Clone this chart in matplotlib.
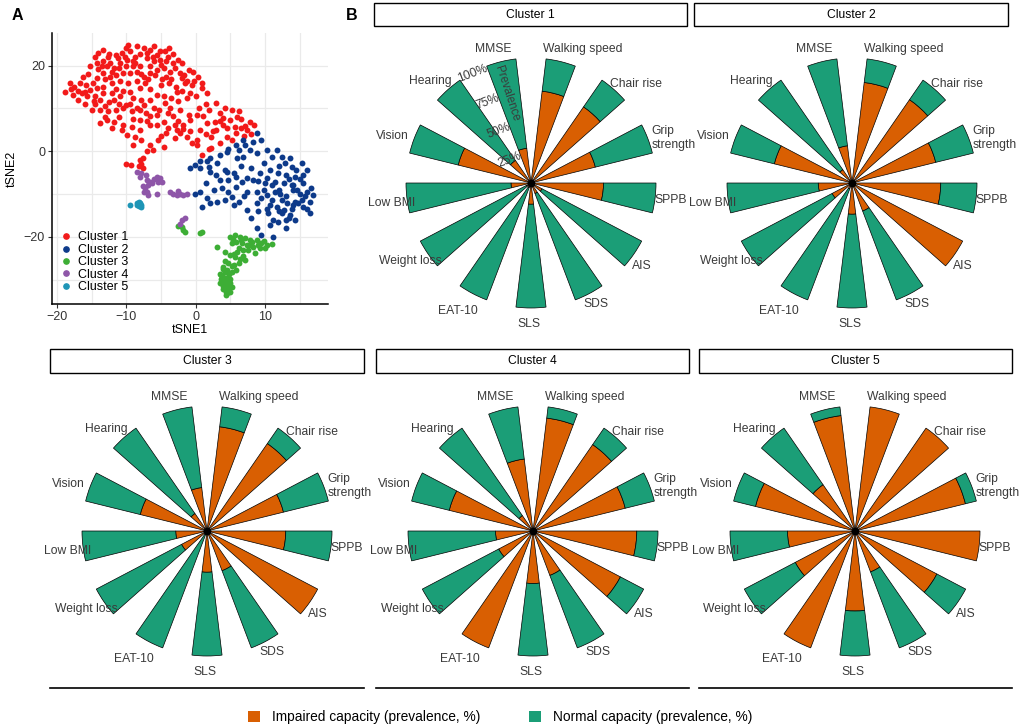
import matplotlib
matplotlib.use("Agg")
import matplotlib.pyplot as plt
import numpy as np
from matplotlib.patches import Rectangle, Patch
from matplotlib.lines import Line2D

plt.rcParams['font.family'] = ['Liberation Sans', 'DejaVu Sans']

# ---------------- data: panel A (tSNE embedding) ----------------
c1_x = [-9.7, -8.4, -7.5, -6.6, -5.1, -4.4, -3.2, -2.5, -13.3, -14.0, -14.5, -12.6, -11.4, -10.6, -9.4,
        -8.7, -7.0, -6.1, -5.1, -4.2, -3.2, -2.0, -9.9, -10.9, -12.3, -13.3, -14.2, -15.2, -11.8, -9.0,
        -8.0, -6.6, -5.6, -4.6, -3.7, -2.2, -0.3, 0.4, -1.3, -2.7, -1.5, 0.9, 1.6, -0.8, -4.2,
        -3.9, -6.6, -7.5, -8.5, -9.4, -10.4, -11.4, -12.3, -13.3, -14.2, -16.2, -16.6, -18.1, -18.8, -17.6,
        -16.4, -16.9, -15.7, -15.2, -14.2, -13.3, -12.1, -10.9, -9.7, -8.5, -7.3, -13.3, -12.1, -10.9, -9.4,
        -9.0, -7.8, -6.6, -5.6, -14.7, -13.8, -15.0, -13.8, -12.6, -11.4, -10.4, -9.2, -8.0, -6.6, -5.6,
        -4.4, -3.7, -2.5, -1.3, -2.2, -3.2, -4.6, -6.6, -8.0, -9.2, -10.4, -11.8, -12.8, -13.8, -12.1,
        -10.6, -9.9, -8.7, -7.8, -6.6, -6.1, -5.4, -4.2, -2.7, -1.8, -0.8, 0.2, 1.1, 1.6, 0.6,
        -0.8, -2.2, 0.2, 0.2, 2.3, 3.0, 2.8, 3.5, 3.0, 4.2, 5.2, 6.2, 4.0, 5.0, 5.7,
        6.6, 7.8, 7.4, 5.9, 4.5, 5.2, 2.3, 0.9, -1.3,
        -17.5, -17.0, -15.8, -14.8, -13.0, -12.0, -11.0, -10.0, -9.0, -8.0, -7.0, -6.0, -5.0, -4.0, -3.0,
        -2.0, -1.0, -11.5, -10.5, -8.0, -6.5, -5.0, -4.5, -3.5, -2.0, -6.0, -7.5, -9.5, -11.0, -12.5,
        -13.0, -11.0, -9.0, -7.0, -5.5, -4.0, -2.5, -1.0, 0.5, 1.5, 2.0, 3.5, 4.5, 6.5, 7.0,
        8.5, 8.0, 3.5, 1.5, -0.5, -3.0, -5.0, -8.0, -9.0, -7.0, -4.5, -16.0, -18.0, -14.5, -13.5,
        -12.5, -10.0, -6.0, -5.5, -3.8, 0.0, -0.5,
        -15.5, -14.0, -12.8, -11.2, -10.2, -8.8, -7.8, -6.8, -5.8, -4.8, -3.5, -2.8, -1.6, -0.2, 1.0,
        -16.0, -14.5, -13.0, -11.7, -10.0, -8.5, -7.2, -5.3, -4.0, -3.0, -1.8, 2.5, 4.0, 6.0, 7.2,
        -10.0, -9.3, -8.0, -7.6, -7.8, -7.6, -8.1, 2.0]
c1_y = [24.8, 24.5, 24.1, 23.7, 23.5, 23.3, 22.7, 21.3, 23.7, 22.9, 22.1, 22.1, 22.5, 22.9, 23.3,
        22.1, 21.7, 22.1, 21.3, 21.0, 20.6, 20.6, 21.3, 20.6, 20.6, 21.0, 20.6, 19.8, 19.4, 19.8,
        19.8, 19.8, 19.0, 19.4, 18.6, 18.2, 18.6, 17.4, 16.3, 13.9, 15.9, 14.7, 13.5, 13.5, 17.4,
        15.9, 18.2, 17.4, 18.6, 18.2, 18.2, 17.8, 17.4, 18.2, 17.0, 17.4, 15.9, 15.9, 13.9, 13.2,
        13.5, 12.0, 12.8, 14.3, 14.7, 15.1, 15.9, 16.3, 15.9, 16.3, 15.9, 13.5, 13.5, 12.8, 13.9,
        12.4, 12.0, 12.0, 13.2, 11.6, 12.0, 9.6, 9.6, 9.3, 9.6, 10.0, 9.3, 9.6, 8.1, 8.5,
        11.2, 10.0, 11.6, 12.4, 9.6, 8.1, 6.9, 6.1, 7.3, 5.7, 6.1, 6.9, 7.3, 6.5, 5.4,
        5.0, 3.8, 3.4, 2.6, 1.5, 0.3, 2.6, 4.2, 5.0, 6.1, 7.3, 8.5, 8.1, 6.5, 5.0,
        4.6, 4.2, 2.6, 1.5, 3.4, 5.0, 6.9, 8.9, 11.2, 10.0, 9.6, 9.3, 7.7, 7.3, 5.7,
        5.4, 6.9, 5.0, 4.2, 3.4, 2.6, 0.7, -0.9, 3.4,
        15.0, 14.0, 15.5, 16.0, 16.8, 18.5, 19.5, 20.0, 21.0, 22.8, 23.0, 21.0, 20.2, 22.0, 19.5,
        17.0, 19.0, 14.5, 14.0, 14.8, 14.5, 15.5, 13.0, 12.5, 14.0, 10.0, 10.8, 11.0, 11.0, 11.5,
        8.0, 8.0, 7.5, 7.0, 6.0, 5.5, 7.0, 8.5, 10.0, 11.0, 9.5, 7.0, 5.5, 7.5, 3.5,
        6.0, 4.0, 2.0, 4.0, 2.0, 3.0, 3.5, 5.0, 1.5, 0.0, 1.0, 11.0, 14.5, 13.0, 20.0,
        22.8, 24.0, 24.5, 22.5, 24.0, 13.0, 15.5,
        18.0, 19.2, 19.8, 21.8, 22.0, 20.5, 18.0, 16.8, 17.8, 16.8, 16.8, 15.0, 17.8, 16.5, 16.0,
        13.8, 11.0, 10.5, 12.0, 10.8, 10.0, 8.8, 9.5, 8.8, 6.0, 5.2, 4.8, 6.0, 8.0, 5.8,
        -3.0, -3.2, -2.0, -1.6, -3.0, -4.0, -3.5, 0.5]

c2_x = [8.8, 9.5, 8.3, 6.9, 7.1, 5.9, 6.2, 4.7, 4.5, 3.5, 2.1, 1.6, 0.7, -0.1, -0.8,
        0.7, 1.9, 3.1, 4.3, 4.5, 2.1, 6.9, 7.9, 8.8, 10.3, 11.0, 11.7, 12.4, 12.9, 13.6,
        13.9, 15.3, 16.0, 15.5, 14.3, 13.1, 11.9, 10.7, 9.8, 9.3, 10.3, 11.5, 12.7, 13.9, 14.6,
        15.5, 16.7, 17.0, 16.5, 16.0, 15.3, 14.3, 13.9, 13.6, 13.1, 12.4, 11.7, 11.0, 10.3, 9.8,
        9.5, 8.8, 10.3, 11.2, 10.7, 11.9, 14.3, 16.5, 5.9, 6.7, 7.4, 8.3, 5.9, 4.7, 3.5,
        2.6, 3.8, 0.7, -0.1, 1.6, 2.1, 0.9, 3.1, 4.3, 5.2, 6.2, 7.4, 8.8, 7.4, 8.8,
        9.5, 11.2, 4.7,
        12.0, 13.0, 14.0, 15.0, 12.5, 11.5, 10.0, 9.0, 8.0, 6.5, 5.5, 12.0, 14.5, 15.5, 13.5,
        12.0, 7.0, 5.5, 1.5, 3.0, 16.0, 14.0, 10.5, 13.0, 8.0,
        13.2, 14.8, 12.2, 15.8, 13.5, 11.0, 14.0, 15.0, 12.8, 10.8, 9.0, 6.0]
c2_y = [4.2, 2.6, 2.2, 2.6, 1.5, 1.5, 0.3, 0.6, -0.1, -0.9, -1.7, -2.4, -2.4, -3.2, -4.0,
        -4.0, -3.6, -2.8, -4.4, -4.8, -4.8, -1.3, 0.3, -0.5, 0.3, -1.3, 0.3, -1.3, -2.8, -1.7,
        -3.6, -2.8, -4.4, -5.6, -6.0, -5.6, -5.2, -4.4, -2.8, -5.2, -6.3, -7.1, -7.5, -7.9, -9.1,
        -7.5, -8.7, -10.2, -11.8, -13.4, -11.4, -11.8, -13.4, -14.9, -16.1, -14.5, -13.0, -11.4, -10.2, -9.1,
        -11.0, -12.2, -13.4, -16.1, -17.3, -16.5, -16.1, -14.5, -6.0, -7.1, -6.3, -6.7, -8.3, -6.7, -6.7,
        -9.1, -8.7, -9.5, -9.9, -11.0, -12.2, -13.0, -11.8, -11.4, -10.6, -11.8, -13.7, -9.5, -9.5, -18.0,
        -19.6, -20.0, -9.5,
        -9.0, -10.5, -12.5, -10.0, -11.5, -9.5, -7.5, -7.0, -4.0, -3.5, -5.0, -3.5, -4.5, -13.0, -15.5,
        -14.0, -10.5, -12.5, -7.5, -5.5, -9.5, -9.0, -14.5, -18.0, -15.5,
        -12.0, -12.0, -10.0, -10.5, -6.5, -8.0, -8.0, -6.5, -13.8, -12.5, -14.0, -1.5]

c3_x = [5.0, 5.7, 6.4, 7.1, 7.9, 8.8, 9.5, 10.3, 11.0, 10.0, 9.3, 8.3, 7.4, 6.7, 5.9,
        5.2, 6.2, 6.9, 8.6, 3.1, 4.3, 5.0, 5.7, 6.4, 7.1, 6.2, 5.5, 4.7, 4.0, 4.5,
        5.2, 5.9, 3.5, 4.0, 4.7, 3.8, 4.5, 4.3, 5.0, 4.0, 4.7, 4.5, 3.5, 5.2,
        -2.5, -2.0, -1.8, -1.5, 0.7, 0.9,
        4.2, 4.8, 4.0, 4.6, 5.0, 3.7, 5.3, 6.0, 7.8, 9.0, 6.5, 4.4, 3.9,
        4.1, 4.4, 4.9, 3.6, 4.3, 4.8, 5.5, 6.8, 7.6, 8.1, 9.8, 5.4, 4.2, 3.9]
c3_y = [-20.0, -19.6, -20.0, -20.4, -20.8, -20.8, -21.5, -21.9, -21.7, -22.7, -22.7, -22.3, -21.9, -21.5, -21.2,
        -21.5, -22.7, -23.1, -23.9, -22.5, -23.5, -24.3, -24.7, -25.1, -25.4, -26.2, -26.6, -26.2, -27.0, -27.8,
        -28.2, -27.8, -28.6, -29.3, -29.3, -30.1, -30.5, -31.3, -30.9, -32.1, -32.5, -33.2, -30.9, -31.7,
        -17.5, -17.8, -18.4, -18.8, -19.2, -18.8,
        -29.8, -28.8, -31.6, -31.8, -29.8, -29.0, -26.8, -23.5, -22.0, -22.0, -20.8, -33.6, -27.5,
        -30.6, -32.8, -32.9, -29.9, -28.2, -30.0, -24.0, -24.4, -23.0, -21.2, -20.9, -20.6, -25.6, -31.0]

c4_x = [-8.5, -7.8, -8.0, -7.0, -6.6, -6.8, -7.3, -7.5, -7.0, -6.3, -5.6, -5.1, -5.4, -4.9, -5.6,
        -3.7, -3.2, -2.7, -2.2, -1.8, -1.3, -2.0, -1.5, -2.2, -7.2, -6.0, -7.6, -2.5, -6.8]
c4_y = [-4.8, -5.2, -6.0, -6.7, -7.1, -7.9, -8.7, -9.5, -9.5, -7.5, -6.0, -6.3, -7.1, -7.1, -9.9,
        -9.5, -9.9, -10.2, -9.9, -10.2, -10.0, -16.1, -15.7, -16.9, -5.5, -6.5, -8.2, -9.2, -10.3]

c5_x = [-9.4, -8.5, -8.2, -8.0, -7.8, -8.2, -7.9, -8.4]
c5_y = [-12.6, -12.2, -11.8, -12.2, -12.6, -12.8, -13.1, -12.6]

# ---------------- data: panel B (impaired prevalence, %) ----------------
capacities = ["MMSE", "Walking speed", "Chair rise", "Grip\nstrength", "SPPB", "AIS", "SDS",
              "SLS", "EAT-10", "Weight loss", "Low BMI", "Vision", "Hearing"]
impaired_c1 = [28, 74, 74, 53, 58, 10, 9, 17, 4, 4, 16, 60, 22]
impaired_c2 = [30, 81, 81, 69, 71, 100, 24, 25, 5, 18, 27, 64, 13]
impaired_c3 = [35, 84, 85, 63, 63, 100, 34, 33, 3, 23, 25, 55, 17]
impaired_c4 = [58, 91, 84, 76, 83, 79, 38, 42, 100, 31, 30, 69, 15]
impaired_c5 = [93, 100, 100, 91, 100, 74, 35, 64, 100, 54, 54, 82, 45]
cluster_names = ["Cluster 1", "Cluster 2", "Cluster 3", "Cluster 4", "Cluster 5"]
prevalence_ticks = [25, 50, 75, 100]

# ---------------- layout helpers (pixel -> figure fraction) ----------------
W, H = 1021, 727
def fx(px):
    return px / W
def fy(py):
    return 1 - py / H

ORANGE = "#D95F02"
GREEN = "#1B9E77"
TXT = "#3a3a3a"

fig = plt.figure(figsize=(W / 100, H / 100), dpi=100)

# ---------------- panel A ----------------
axA = fig.add_axes([fx(52), fy(304), fx(328) - fx(52), fy(33) - fy(304)])
pt_colors = ["#F21A1A", "#0D3A8A", "#3DAE35", "#8E56A8", "#1E95B6"]
for (xs, ys), col, name in zip([(c1_x, c1_y), (c2_x, c2_y), (c3_x, c3_y), (c4_x, c4_y), (c5_x, c5_y)],
                               pt_colors, cluster_names):
    axA.scatter(xs, ys, s=18, color=col, linewidths=0, label=name, zorder=3)
axA.set_xlim(-20.7, 19.1)
axA.set_ylim(-35.7, 27.6)
axA.set_xticks([-20, -10, 0, 10])
axA.set_xticks([-15, -5, 5, 15], minor=True)
axA.set_yticks([-20, 0, 20])
axA.set_yticks([-30, -10, 10], minor=True)
axA.grid(True, which="both", color="#EAEAEA", lw=0.9, zorder=0)
axA.tick_params(which="minor", length=0)
axA.tick_params(which="major", length=3, width=0.8, color="#333333", labelsize=9, labelcolor="#333333", pad=2)
for s in ["top", "right"]:
    axA.spines[s].set_visible(False)
for s in ["left", "bottom"]:
    axA.spines[s].set_linewidth(1.1)
axA.set_xlabel("tSNE1", fontsize=9, labelpad=1)
axA.set_ylabel("tSNE2", fontsize=9, labelpad=4)
handles = [Line2D([], [], marker="o", ls="", ms=3.8, color=c) for c in pt_colors]
axA.legend(handles, cluster_names, loc="upper left", bbox_to_anchor=(fx(61), fy(231.5)),
           bbox_transform=fig.transFigure, frameon=False, fontsize=9, handlelength=0.8,
           handletextpad=0.6, labelspacing=0.03, borderpad=0, borderaxespad=0)
fig.text(fx(17), fy(15), "A", fontsize=11.5, fontweight="bold", ha="center", va="center")
fig.text(fx(352), fy(15), "B", fontsize=11.5, fontweight="bold", ha="center", va="center")

# ---------------- panel B ----------------
R = 125
centers = [(531, 183), (852, 183), (207, 531), (533, 531), (855, 531)]
strips = [(374, 687, 3, 26), (694, 1008, 3, 26), (50, 364, 349, 373), (376, 689, 349, 373), (699, 1012, 349, 373)]
label_nudge = [(-4, -3), (18, -3), (12, -6), (11, -5), (0, 0), (-5, -3), (0, 4),
               (-2, 0), (-8, -3), (-5, 2), (0, -3), (-7, -3), (-7, -3)]
n = len(capacities)
slot = 2 * np.pi / n
theta = (np.arange(n) - 0.5) * slot
width = 0.5 * slot
all_impaired = [impaired_c1, impaired_c2, impaired_c3, impaired_c4, impaired_c5]

for k, (imp, name) in enumerate(zip(all_impaired, cluster_names)):
    cx, cy = centers[k]
    ax = fig.add_axes([fx(cx - R), fy(cy + R), 2 * R / W, 2 * R / H], projection="polar")
    ax.set_theta_zero_location("N")
    ax.set_theta_direction(-1)
    imp = np.array(imp) / 100.0
    normal = 1 - imp
    ax.bar(theta, imp, width=width, bottom=0, color=ORANGE, edgecolor="black", lw=0.5, clip_on=False)
    ax.bar(theta, normal, width=width, bottom=imp, color=GREEN, edgecolor="black",
           lw=np.where(normal > 0, 0.5, 0.0), clip_on=False)
    ax.plot([0], [0], "o", color="black", ms=4.5, clip_on=False)
    ax.set_ylim(0, 1)
    ax.grid(False)
    ax.set_xticks([])
    ax.set_yticks([])
    ax.spines["polar"].set_visible(False)
    ax.patch.set_alpha(0)
    for t, lab, (dx, dy) in zip(theta, capacities, label_nudge):
        ax.annotate(lab, xy=(t, 1.125), xytext=(dx, dy), textcoords="offset pixels",
                    ha="center", va="center", multialignment="left", fontsize=8.7,
                    color=TXT, annotation_clip=False)
    if k == 0:
        tp = theta[0] - width / 2
        for p in prevalence_ticks:
            ax.text(tp, p / 100.0 - 0.02, f"{p}%", ha="right", va="center", rotation=-np.degrees(tp),
                    rotation_mode="anchor", fontsize=8.7, color=TXT)
        ax.text(theta[0] - 0.02, 0.74, "Prevalence", ha="center", va="center", rotation=-72,
                rotation_mode="anchor", fontsize=8.3, color=TXT)
    x0, x1, y0, y1 = strips[k]
    fig.add_artist(Rectangle((fx(x0), fy(y1)), fx(x1) - fx(x0), fy(y0) - fy(y1), transform=fig.transFigure,
                             facecolor="white", edgecolor="black", lw=1.0))
    fig.text(fx((x0 + x1) / 2), fy((y0 + y1) / 2), name, ha="center", va="center", fontsize=8.7)
    if k >= 2:
        fig.add_artist(Line2D([fx(x0), fx(x1)], [fy(688), fy(688)], color="black", lw=1.2,
                              transform=fig.transFigure))

leg_handles = [Patch(facecolor=ORANGE, edgecolor="none"), Patch(facecolor=GREEN, edgecolor="none")]
fig.legend(leg_handles, ["Impaired capacity (prevalence, %)", "Normal capacity (prevalence, %)"],
           loc="center", bbox_to_anchor=(fx(500), fy(717)), ncol=2, frameon=False, fontsize=9.9,
           handlelength=0.9, handleheight=0.9, handletextpad=0.85, columnspacing=3.5)

fig.savefig("out.png", dpi=100)
